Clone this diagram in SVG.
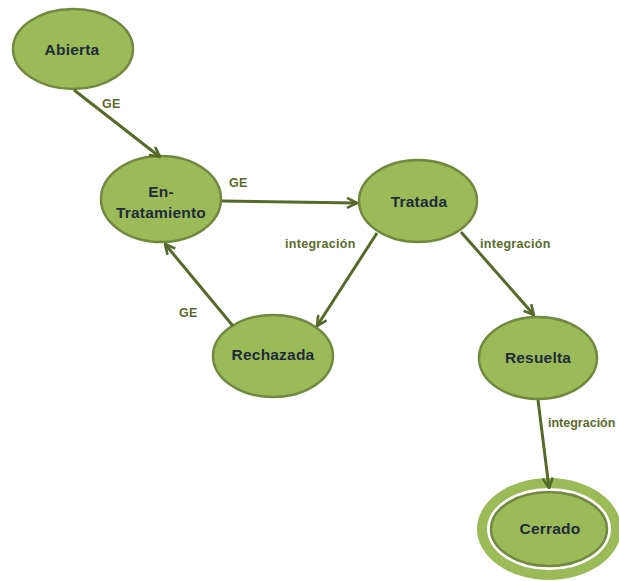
<svg xmlns="http://www.w3.org/2000/svg" width="619" height="581" viewBox="0 0 619 581">
  <style>
    .state { fill: #9bbb59; stroke: #71893f; stroke-width: 2.5; }
    .ring { fill: #9bbb59; }
    .gap { fill: #ffffff; }
    .name { font-family: "Liberation Sans", Arial, sans-serif; font-size: 15.5px; font-weight: bold; fill: #1f2b3a; text-anchor: middle; letter-spacing: 0.2px; }
    .edge { stroke: #56692b; stroke-width: 3; fill: none; marker-end: url(#chevron); }
    .tag { font-family: "Liberation Sans", Arial, sans-serif; font-size: 12.5px; font-weight: bold; fill: #5a6a2c; letter-spacing: 0.3px; }
  </style>
  <defs>
    <marker id="chevron" viewBox="0 0 12 12" refX="11" refY="6" markerWidth="12" markerHeight="12" markerUnits="userSpaceOnUse" orient="auto">
      <path d="M1,1 L11,6 L1,11" fill="none" stroke="#56692b" stroke-width="2.6" stroke-linejoin="miter"/>
    </marker>
  </defs>
  <rect width="619" height="581" fill="#ffffff"/>

  <g id="abierta">
    <ellipse class="state" cx="73" cy="49" rx="60" ry="40"/>
    <text class="name" x="72" y="55">Abierta</text>
  </g>

  <g id="en-tratamiento">
    <ellipse class="state" cx="161" cy="199" rx="60" ry="43"/>
    <text class="name" x="161" y="197">En-</text>
    <text class="name" x="161" y="218">Tratamiento</text>
  </g>

  <g id="tratada">
    <ellipse class="state" cx="418" cy="201" rx="59" ry="41"/>
    <text class="name" x="419" y="207">Tratada</text>
  </g>

  <g id="rechazada">
    <ellipse class="state" cx="273" cy="356" rx="60" ry="41"/>
    <text class="name" x="273" y="360">Rechazada</text>
  </g>

  <g id="resuelta">
    <ellipse class="state" cx="538" cy="358" rx="59" ry="41"/>
    <text class="name" x="538" y="363">Resuelta</text>
  </g>

  <!-- final state: double border -->
  <g id="cerrado">
    <ellipse class="ring" cx="549" cy="529" rx="72" ry="51"/>
    <ellipse class="gap" cx="549" cy="529" rx="62" ry="41"/>
    <ellipse class="state" cx="549" cy="529" rx="58" ry="37"/>
    <text class="name" x="550" y="534">Cerrado</text>
  </g>

  <!-- transitions, drawn on top so the arrowheads stay visible -->
  <g id="connectors">
    <line class="edge" x1="74" y1="90" x2="160" y2="157"/>
    <line class="edge" x1="222" y1="201" x2="357" y2="203"/>
    <line class="edge" x1="377" y1="233" x2="317" y2="326"/>
    <line class="edge" x1="233" y1="326" x2="165" y2="244"/>
    <line class="edge" x1="461" y1="232" x2="534" y2="315"/>
    <line class="edge" x1="538" y1="400" x2="549" y2="488"/>
    <text class="tag" x="102" y="108">GE</text>
    <text class="tag" x="229" y="187">GE</text>
    <text class="tag" x="285" y="248">integración</text>
    <text class="tag" x="179" y="317">GE</text>
    <text class="tag" x="480" y="248">integración</text>
    <text class="tag" x="548" y="427" style="letter-spacing:0">integración</text>
  </g>
</svg>
